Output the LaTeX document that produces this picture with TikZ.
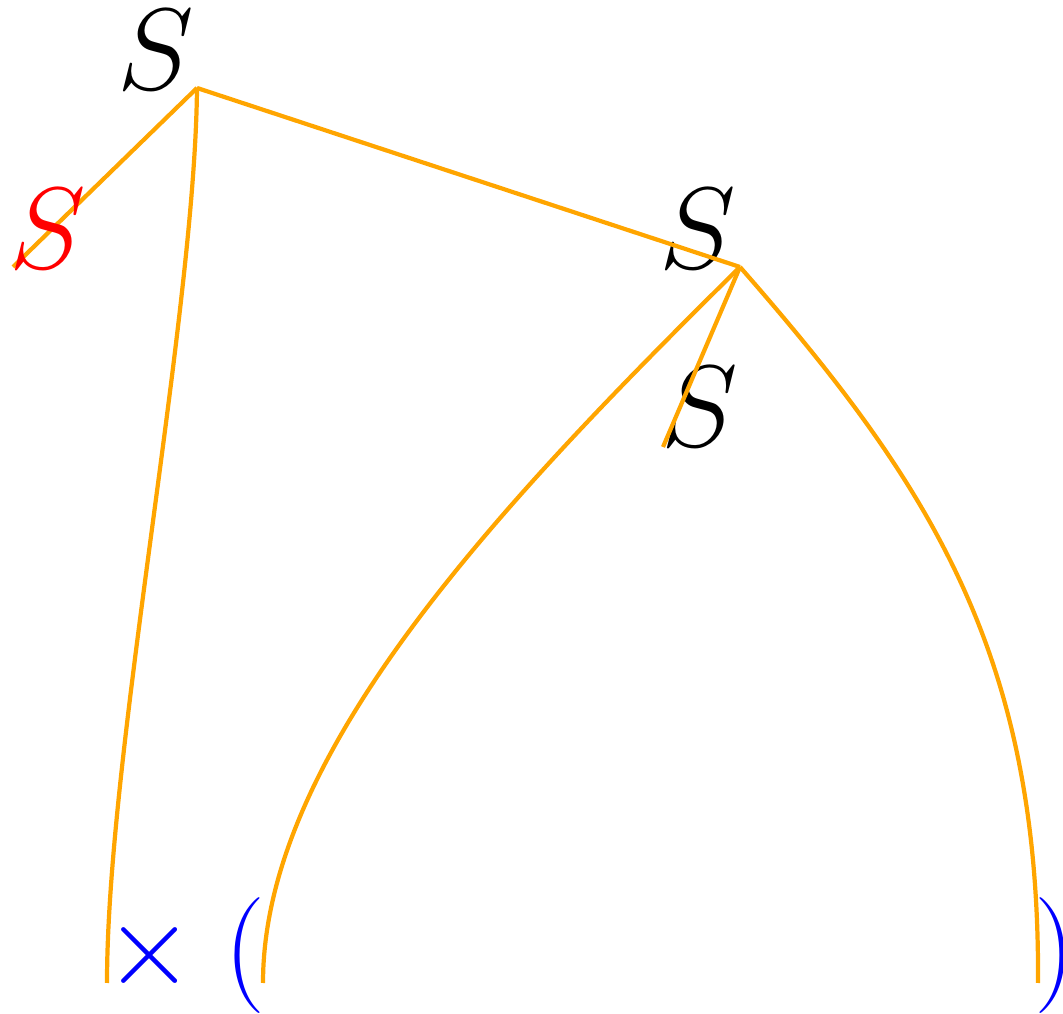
\documentclass[tikz,border=0pt]{standalone}
\usepackage{tikz}
\definecolor{treeorange}{HTML}{FFA500}
\tikzset{
  edge/.style={draw=treeorange, line width=1.2pt},
  sym/.style={inner sep=0pt, font=\Huge, scale=1.326, transform shape}
}
\begin{document}
\begin{tikzpicture}
\useasboundingbox (0,0) rectangle (10.63,10.14);
\coordinate (root) at (1.97,9.26);
\coordinate (mid) at (7.40,7.47);
\coordinate (redend) at (0.13,7.47);
\coordinate (shortend) at (6.63,5.67);
\coordinate (leafa) at (1.07,0.31);
\coordinate (leafb) at (2.63,0.31);
\coordinate (leafc) at (10.38,0.31);
\node[sym] (sroot) at (1.56,9.64) {$S$};
\node[sym] (smid) at (6.98,7.85) {$S$};
\node[sym] (sshort) at (7.00,6.07) {$S$};
\node[sym] (times) at (1.50,0.58) {\color{blue}$\times$};
\node[sym] (lpar) at (2.45,0.58) {\color{blue}$($};
\node[sym] (rpar) at (10.55,0.58) {\color{blue}$)$};
\draw[edge] (root) -- (redend);
\draw[edge] (root) -- (mid);
\draw[edge] (mid) -- (shortend);
\draw[edge] (root) .. controls (1.95,7.0) and (1.07,2.6) .. (leafa);
\draw[edge] (mid) .. controls (5.0,5.1) and (2.63,2.6) .. (leafb);
\draw[edge] (mid) .. controls (9.3,5.3) and (10.4,3.6) .. (leafc);
\node[sym] (sred) at (0.48,7.85) {\color{red}$S$};
\end{tikzpicture}
\end{document}
